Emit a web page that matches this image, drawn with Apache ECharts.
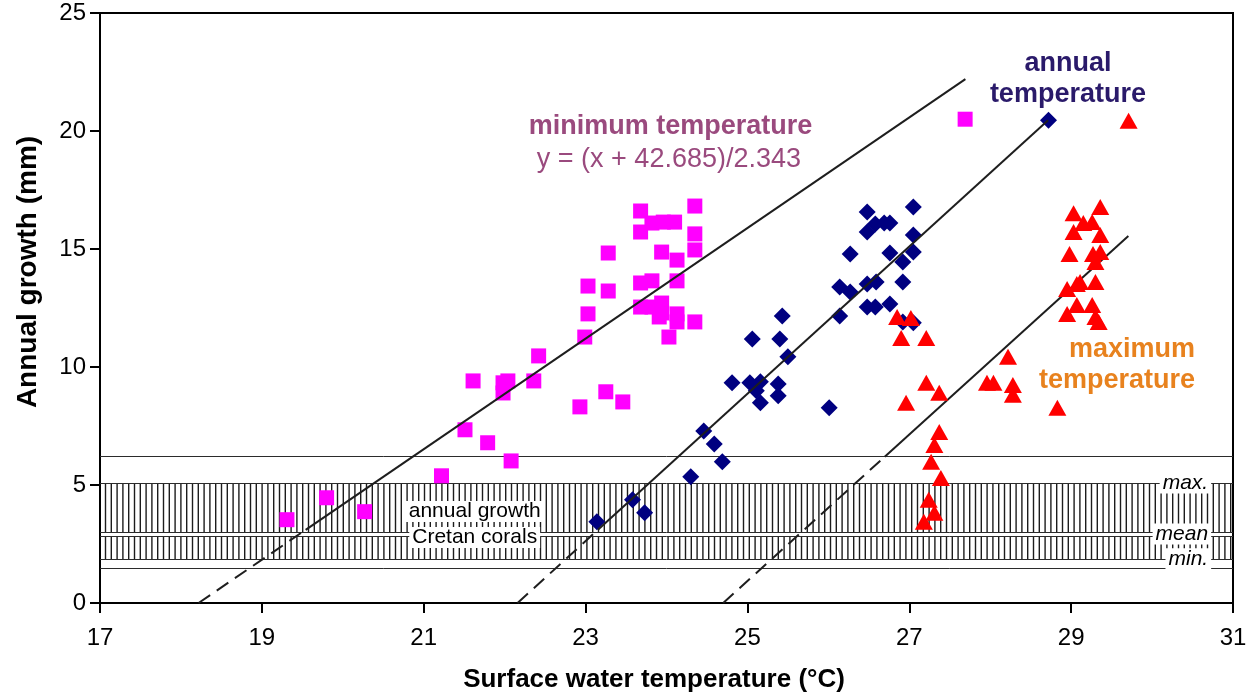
<!DOCTYPE html>
<html>
<head>
<meta charset="utf-8">
<script src="https://cdn.jsdelivr.net/npm/echarts@6/dist/echarts.min.js"></script>
<style>
  html, body { margin: 0; padding: 0; background: #fff; }
  #chart { width: 1248px; height: 693px; }
</style>
</head>
<body>
<div id="chart"></div>
<script>
// Axis ranges (surface water temperature in °C, annual growth in mm)
const xMin = 17, xMax = 31, xStep = 2;
const yMin = 0, yMax = 25, yStep = 5;

// Each point: [temperature °C, annual growth mm]
const minTempPoints = [
  [24.35,16.82],[23.68,16.61],[23.82,16.10],[23.96,16.14],[24.10,16.14],[23.68,15.72],
  [24.35,15.64],[23.28,14.83],[23.94,14.87],[24.35,14.96],[24.13,14.53],[23.03,13.43],
  [23.28,13.22],[23.68,13.56],[23.82,13.65],[24.13,13.65],[23.03,12.25],[23.68,12.54],
  [23.82,12.54],[23.94,12.71],[23.94,12.29],[23.91,12.12],[24.13,12.25],[24.13,11.91],
  [24.35,11.91],[24.03,11.27],[22.99,11.27],[22.42,10.47],[22.36,9.41],[21.61,9.41],
  [21.98,9.33],[22.04,9.41],[21.98,8.90],[22.93,8.31],[23.25,8.95],[23.46,8.52],
  [21.51,7.34],[21.79,6.79],[22.08,6.02],[21.22,5.39],[19.80,4.46],[19.31,3.53],
  [20.27,3.87],[27.69,20.50]
];

const annualTempPoints = [
  [26.48,16.57],[27.05,16.78],[26.58,16.06],[26.69,16.10],[26.76,16.10],[26.48,15.72],
  [27.05,15.59],[26.27,14.79],[26.76,14.83],[27.05,14.87],[26.92,14.45],[26.14,13.39],
  [26.27,13.18],[26.48,13.52],[26.59,13.60],[26.92,13.60],[26.14,12.16],[26.48,12.54],
  [26.58,12.54],[26.76,12.67],[26.92,11.91],[27.05,11.87],[25.43,12.16],[25.06,11.19],
  [25.40,11.19],[25.50,10.43],[24.81,9.33],[25.03,9.33],[25.16,9.37],[25.11,8.99],
  [25.16,8.48],[25.38,9.28],[25.38,8.78],[26.01,8.27],[24.46,7.29],[24.59,6.74],
  [24.69,5.98],[24.30,5.35],[23.58,4.37],[23.73,3.82],[23.14,3.44],[28.72,20.46]
];

const maxTempPoints = [
  [29.03,16.52],[29.36,16.78],[29.15,16.10],[29.26,16.14],[29.03,15.72],[29.36,15.59],
  [28.98,14.79],[29.27,14.79],[29.36,14.87],[29.30,14.45],[28.95,13.31],[29.07,13.52],
  [29.11,13.60],[29.30,13.60],[28.95,12.25],[29.07,12.63],[29.26,12.63],[29.30,12.12],
  [29.34,11.91],[26.85,12.12],[27.02,12.08],[26.90,11.23],[27.21,11.23],[28.22,10.43],
  [27.96,9.33],[28.04,9.33],[28.28,9.24],[28.28,8.82],[27.21,9.33],[27.37,8.91],
  [26.96,8.48],[28.83,8.27],[27.37,7.25],[27.31,6.70],[27.27,5.98],[27.39,5.30],
  [27.24,4.37],[27.31,3.82],[27.18,3.44],[29.71,20.43]
];

// Annual growth of Cretan corals (mm): outer lines, hatched range and mean
const growthBand = { upper: 6.22, max: 5.09, mean: 2.92, min: 1.87, lower: 1.48 };

// Fitted lines, written as T = (G + a) / b; dashed from 0 to dashedTo, solid up to solidTo
const fits = [
  { a: 42.685, b: 2.343, dashedTo: 3.1, solidTo: 22.2 },
  { a: 69.16,  b: 3.121, dashedTo: 3.1, solidTo: 20.46 },
  { a: 76.72,  b: 3.106, dashedTo: 6.2, solidTo: 15.55 }
];

// Text placed in data space: [temperature, growth]
const FONT = '"Liberation Sans", Arial, Helvetica, sans-serif';
const notes = [
  { text: 'minimum temperature', at: [24.05, 20.17], fill: '#9a4a7e', weight: 'bold', align: 'center' },
  { text: 'y = (x + 42.685)/2.343', at: [24.03, 18.77], fill: '#9a4a7e', weight: 'normal', align: 'center' },
  { text: 'annual\ntemperature', at: [28.96, 22.2], fill: '#2a1a6a', weight: 'bold', align: 'center' },
  { text: 'maximum\ntemperature', at: [30.53, 10.09], fill: '#e8821e', weight: 'bold', align: 'right' }
];
const bandNotes = [
  { text: 'max.', at: [30.73, growthBand.max], align: 'right', italic: true },
  { text: 'mean', at: [30.73, growthBand.mean], align: 'right', italic: true },
  { text: 'min.', at: [30.73, growthBand.min], align: 'right', italic: true },
  { text: 'annual growth', at: [21.63, 3.88], align: 'center', italic: false },
  { text: 'Cretan corals', at: [21.63, 2.78], align: 'center', italic: false }
];

function fitSegment(fit, g0, g1) {
  return [[(g0 + fit.a) / fit.b, g0], [(g1 + fit.a) / fit.b, g1]];
}

const crisp = v => Math.round(v) + 0.5;

function renderBand(params, api) {
  const cs = params.coordSys;
  const left = cs.x, right = cs.x + cs.width;
  const yAt = v => api.coord([xMin, v])[1];
  const yUp = crisp(yAt(growthBand.upper));
  const yTop = crisp(yAt(growthBand.max));
  const yMean = yAt(growthBand.mean);
  const yBot = crisp(yAt(growthBand.min));
  const yLow = crisp(yAt(growthBand.lower));
  const gA = crisp(yMean - 2.4), gB = crisp(yMean + 2.4);
  const stroke = '#1c1c1c';
  const kids = [];
  for (let x = left + 5.5; x < right - 1; x += 5.8) {
    kids.push({ type: 'line', shape: { x1: x, y1: yTop, x2: x, y2: gA }, style: { stroke, lineWidth: 1.4 } });
    kids.push({ type: 'line', shape: { x1: x, y1: gB, x2: x, y2: yBot }, style: { stroke, lineWidth: 1.4 } });
  }
  [yUp, yLow, yTop, yBot, gA, gB].forEach(y => {
    kids.push({ type: 'line', shape: { x1: left, y1: y, x2: right, y2: y }, style: { stroke: '#2b2b2b', lineWidth: 1 } });
  });
  bandNotes.forEach(n => {
    const p = api.coord(n.at);
    kids.push({
      type: 'text',
      style: {
        text: n.text, x: p[0], y: p[1],
        align: n.align, verticalAlign: 'middle',
        font: (n.italic ? 'italic ' : '') + '21px ' + FONT,
        fill: '#000', backgroundColor: '#fff', padding: [0, 3, 0, 3]
      }
    });
  });
  return { type: 'group', children: kids };
}

function renderNotes(params, api) {
  return {
    type: 'group',
    children: notes.map(n => {
      const p = api.coord(n.at);
      return {
        type: 'text',
        style: {
          text: n.text, x: p[0], y: p[1],
          align: n.align, verticalAlign: 'middle',
          font: n.weight + ' 27px ' + FONT, lineHeight: 31,
          fill: n.fill
        }
      };
    })
  };
}

const lineStyle = { color: '#1e1e1e', width: 2 };
const fitSeries = [];
fits.forEach(f => {
  fitSeries.push({
    type: 'line', data: fitSegment(f, 0, f.dashedTo), symbol: 'none', z: 5, silent: true,
    lineStyle: Object.assign({ type: [14, 8] }, lineStyle), animation: false
  });
  fitSeries.push({
    type: 'line', data: fitSegment(f, f.dashedTo, f.solidTo), symbol: 'none', z: 5, silent: true,
    lineStyle: Object.assign({ type: 'solid' }, lineStyle), animation: false
  });
});

const chart = echarts.init(document.getElementById('chart'), null, { renderer: 'canvas' });
chart.setOption({
  animation: false,
  backgroundColor: '#fff',
  grid: {
    left: 100, right: 15, top: 13, bottom: 90,
    show: true, borderColor: '#000', borderWidth: 2,
    containLabel: false, outerBoundsMode: 'none'
  },
  xAxis: {
    type: 'value', min: xMin, max: xMax, interval: xStep,
    axisLine: { show: true, onZero: false, lineStyle: { color: '#000', width: 2 } },
    axisTick: { show: true, inside: false, length: 10, lineStyle: { color: '#000', width: 2 } },
    axisLabel: { color: '#000', fontSize: 24, fontFamily: FONT, margin: 23 },
    splitLine: { show: false },
    name: 'Surface water temperature (°C)',
    nameLocation: 'middle', nameGap: 64,
    nameTextStyle: { color: '#000', fontSize: 26, fontWeight: 'bold', fontFamily: FONT, padding: [0, 25, 0, 0] }
  },
  yAxis: {
    type: 'value', min: yMin, max: yMax, interval: yStep,
    axisLine: { show: true, onZero: false, lineStyle: { color: '#000', width: 2 } },
    axisTick: { show: true, inside: false, length: 10, lineStyle: { color: '#000', width: 2 } },
    axisLabel: { color: '#000', fontSize: 24, fontFamily: FONT, margin: 14 },
    splitLine: { show: false },
    name: 'Annual growth (mm)',
    nameLocation: 'middle', nameGap: 58, nameRotate: 90,
    nameTextStyle: { color: '#000', fontSize: 28, fontWeight: 'bold', fontFamily: FONT, padding: [0, 0, 0, 72] }
  },
  series: [
    { type: 'custom', renderItem: renderBand, data: [[xMin, yMin]], z: 1, silent: true, clip: false },
    {
      name: 'minimum temperature', type: 'scatter', data: minTempPoints, z: 2,
      symbol: 'rect', symbolSize: 15, itemStyle: { color: '#ff00ff', opacity: 1 }
    },
    {
      name: 'annual temperature', type: 'scatter', data: annualTempPoints, z: 3,
      symbol: 'diamond', symbolSize: 17, itemStyle: { color: '#000080', opacity: 1 }
    },
    ...fitSeries,
    {
      name: 'maximum temperature', type: 'scatter', data: maxTempPoints, z: 6,
      symbol: 'triangle', symbolSize: [18, 16], itemStyle: { color: '#ff0000', opacity: 1 }
    },
    { type: 'custom', renderItem: renderNotes, data: [[xMin, yMin]], z: 7, silent: true, clip: false }
  ]
});
</script>
</body>
</html>
